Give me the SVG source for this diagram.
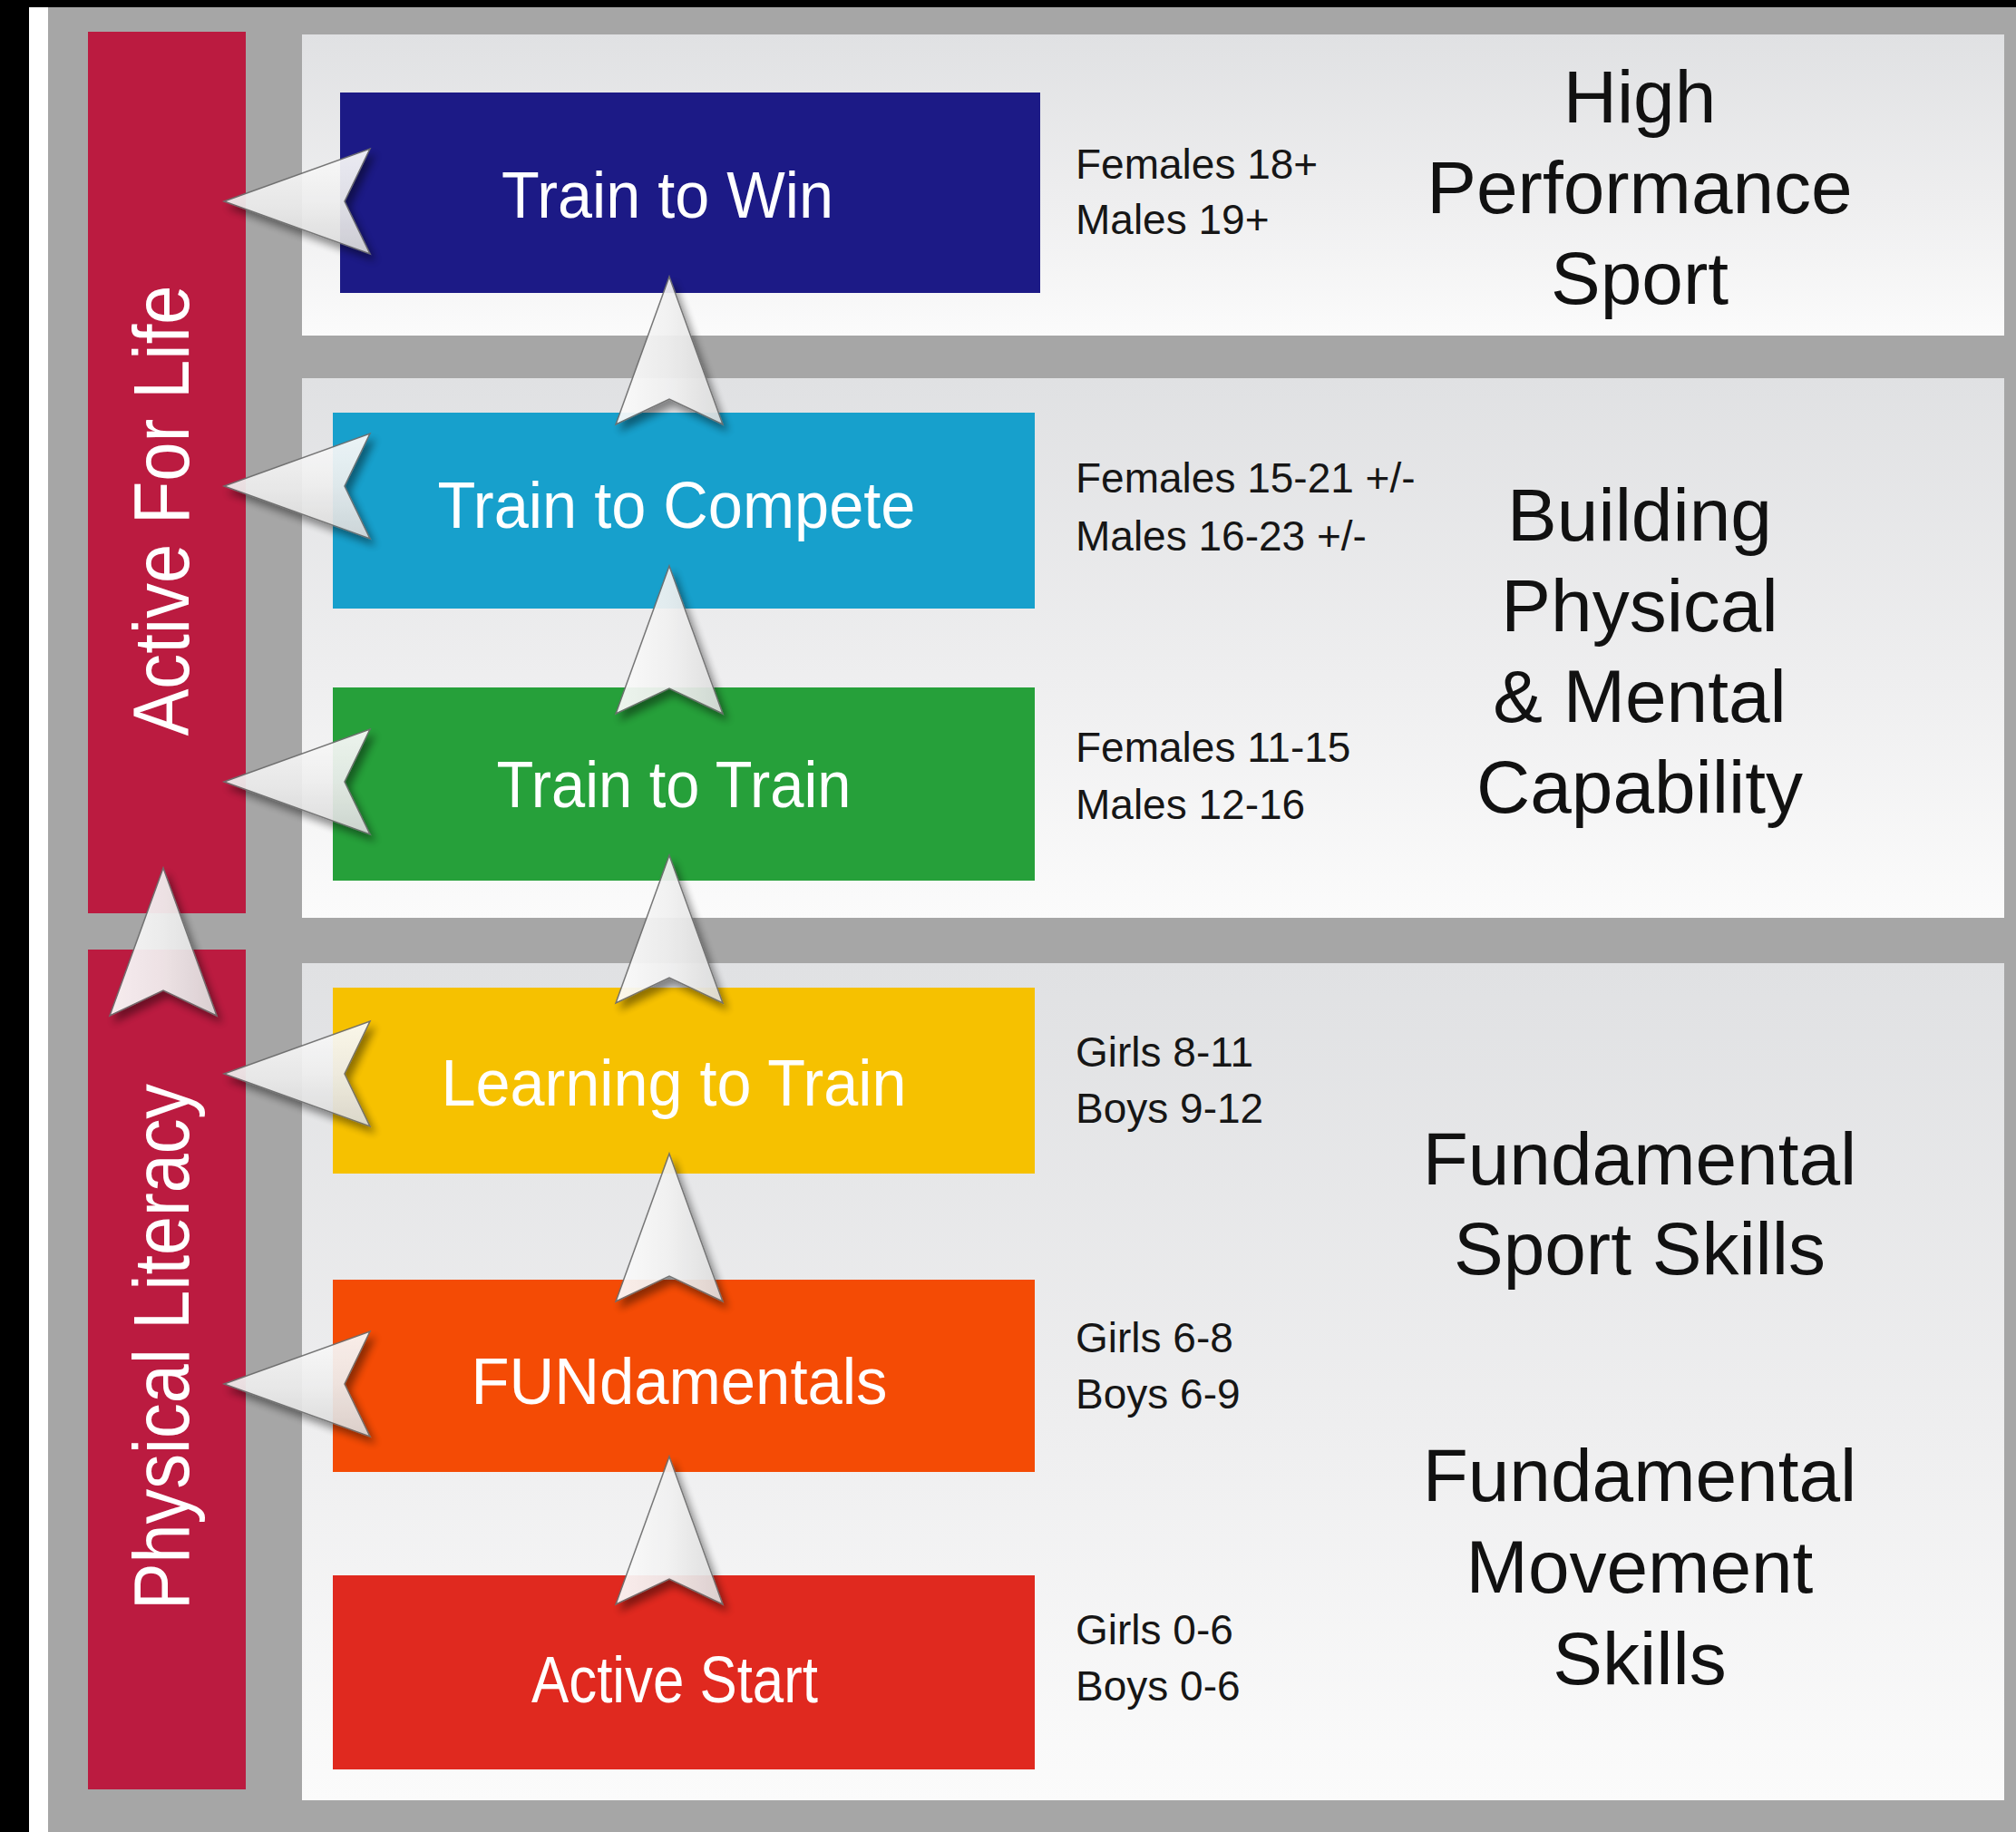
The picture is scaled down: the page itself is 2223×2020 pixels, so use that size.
<svg xmlns="http://www.w3.org/2000/svg" width="2223" height="2020" viewBox="0 0 2223 2020">
  <defs>
    <linearGradient id="panelFill" x1="0" y1="0" x2="0" y2="1">
      <stop offset="0" stop-color="#e0e1e3"/>
      <stop offset="0.55" stop-color="#eeeeef"/>
      <stop offset="1" stop-color="#fbfbfb"/>
    </linearGradient>
    <linearGradient id="upFill" x1="0" y1="0" x2="1" y2="0">
      <stop offset="0" stop-color="#fcfcfc"/>
      <stop offset="0.5" stop-color="#f1f1f1"/>
      <stop offset="1" stop-color="#dcdcdc"/>
    </linearGradient>
    <linearGradient id="leftFill" x1="0" y1="0" x2="0" y2="1">
      <stop offset="0" stop-color="#fbfbfb"/>
      <stop offset="0.5" stop-color="#eeeeee"/>
      <stop offset="1" stop-color="#d9d9d9"/>
    </linearGradient>
    <filter id="dropShadow" x="-40%" y="-40%" width="180%" height="180%">
      <feDropShadow dx="5" dy="7" stdDeviation="4" flood-color="#000" flood-opacity="0.45"/>
    </filter>
    <!-- arrowhead shapes, tip at the origin -->
    <path id="arrowUp" d="M0,0 L59,163 L0,135 L-59,163 Z"/>
    <path id="arrowLeft" d="M0,0 L161,-58 L133,0 L161,58 Z"/>
  </defs>
  <style>
    .panel { fill: url(#panelFill); }
    .bar { fill: #bb1b40; }
    .barText { font-family: "Liberation Sans", Arial, sans-serif; font-size: 88px; fill: #ffffff; text-anchor: middle; }
    .stage text.lbl { font-family: "Liberation Sans", Arial, sans-serif; font-size: 72px; fill: #ffffff; text-anchor: middle; }
    .age { font-family: "Liberation Sans", Arial, sans-serif; font-size: 46px; fill: #161616; }
    .title { font-family: "Liberation Sans", Arial, sans-serif; font-size: 82px; fill: #111111; text-anchor: middle; }
    .up { fill: url(#upFill); stroke: #6e6e6e; stroke-width: 1.5; stroke-linejoin: miter; filter: url(#dropShadow); opacity: 0.93; }
    .left { fill: url(#leftFill); stroke: #6e6e6e; stroke-width: 1.5; stroke-linejoin: miter; filter: url(#dropShadow); opacity: 0.93; }
  </style>

  <!-- frame and background -->
  <rect x="0" y="0" width="2223" height="2020" fill="#a6a6a6"/>
  <rect x="0" y="0" width="2223" height="8" fill="#000000"/>
  <rect x="0" y="0" width="32" height="2020" fill="#000000"/>
  <rect x="32" y="8" width="21" height="2012" fill="#ffffff"/>

  <!-- band panels -->
  <g id="band-high-performance">
    <rect class="panel" x="333" y="38" width="1877" height="332"/>
    <text class="title" x="1808" y="135">High</text>
    <text class="title" x="1808" y="235">Performance</text>
    <text class="title" x="1808" y="335">Sport</text>
  </g>
  <g id="band-building">
    <rect class="panel" x="333" y="417" width="1877" height="595"/>
    <text class="title" x="1808" y="596">Building</text>
    <text class="title" x="1808" y="696">Physical</text>
    <text class="title" x="1808" y="796">&amp; Mental</text>
    <text class="title" x="1808" y="896">Capability</text>
  </g>
  <g id="band-fundamental">
    <rect class="panel" x="333" y="1062" width="1877" height="923"/>
    <text class="title" x="1808" y="1306">Fundamental</text>
    <text class="title" x="1808" y="1405">Sport Skills</text>
    <text class="title" x="1808" y="1655">Fundamental</text>
    <text class="title" x="1808" y="1756">Movement</text>
    <text class="title" x="1808" y="1857">Skills</text>
  </g>

  <!-- side bars -->
  <g id="active-for-life">
    <rect class="bar" x="97" y="35" width="174" height="972"/>
    <text class="barText" transform="translate(208,563) rotate(-90)" textLength="497" lengthAdjust="spacingAndGlyphs">Active For Life</text>
  </g>
  <g id="physical-literacy">
    <rect class="bar" x="97" y="1047" width="174" height="926"/>
    <text class="barText" transform="translate(208,1485) rotate(-90)" textLength="580" lengthAdjust="spacingAndGlyphs">Physical Literacy</text>
  </g>

  <!-- stages -->
  <g id="train-to-win" class="stage">
    <rect x="375" y="102" width="772" height="221" fill="#1c1a86"/>
    <text class="lbl" x="736" y="240" textLength="366" lengthAdjust="spacingAndGlyphs">Train to Win</text>
    <text class="age" x="1186" y="197">Females 18+</text>
    <text class="age" x="1186" y="258">Males 19+</text>
  </g>
  <g id="train-to-compete" class="stage">
    <rect x="367" y="455" width="774" height="216" fill="#17a0cc"/>
    <text class="lbl" x="746" y="582" textLength="527" lengthAdjust="spacingAndGlyphs">Train to Compete</text>
    <text class="age" x="1186" y="543">Females 15-21 +/-</text>
    <text class="age" x="1186" y="607">Males 16-23 +/-</text>
  </g>
  <g id="train-to-train" class="stage">
    <rect x="367" y="758" width="774" height="213" fill="#26a03a"/>
    <text class="lbl" x="743" y="890" textLength="391" lengthAdjust="spacingAndGlyphs">Train to Train</text>
    <text class="age" x="1186" y="840">Females 11-15</text>
    <text class="age" x="1186" y="903">Males 12-16</text>
  </g>
  <g id="learning-to-train" class="stage">
    <rect x="367" y="1089" width="774" height="205" fill="#f6c100"/>
    <text class="lbl" x="743" y="1219" textLength="513" lengthAdjust="spacingAndGlyphs">Learning to Train</text>
    <text class="age" x="1186" y="1176">Girls 8-11</text>
    <text class="age" x="1186" y="1238">Boys 9-12</text>
  </g>
  <g id="fundamentals" class="stage">
    <rect x="367" y="1411" width="774" height="212" fill="#f44b05"/>
    <text class="lbl" x="749" y="1548" textLength="459" lengthAdjust="spacingAndGlyphs">FUNdamentals</text>
    <text class="age" x="1186" y="1491">Girls 6-8</text>
    <text class="age" x="1186" y="1553">Boys 6-9</text>
  </g>
  <g id="active-start" class="stage">
    <rect x="367" y="1737" width="774" height="214" fill="#e0291f"/>
    <text class="lbl" x="744" y="1877" textLength="316" lengthAdjust="spacingAndGlyphs">Active Start</text>
    <text class="age" x="1186" y="1813">Girls 0-6</text>
    <text class="age" x="1186" y="1875">Boys 0-6</text>
  </g>

  <!-- connectors: progression arrows up the stages, exit arrows to the side bars -->
  <g id="connectors">
    <use href="#arrowUp" class="up" x="738" y="1606"/>
    <use href="#arrowUp" class="up" x="738" y="1272"/>
    <use href="#arrowUp" class="up" x="738" y="943"/>
    <use href="#arrowUp" class="up" x="738" y="624"/>
    <use href="#arrowUp" class="up" x="738" y="305"/>
    <use href="#arrowUp" class="up" x="180" y="957"/>
    <use href="#arrowLeft" class="left" x="247" y="222"/>
    <use href="#arrowLeft" class="left" x="247" y="536"/>
    <use href="#arrowLeft" class="left" x="247" y="862"/>
    <use href="#arrowLeft" class="left" x="247" y="1184"/>
    <use href="#arrowLeft" class="left" x="247" y="1526"/>
  </g>
</svg>
